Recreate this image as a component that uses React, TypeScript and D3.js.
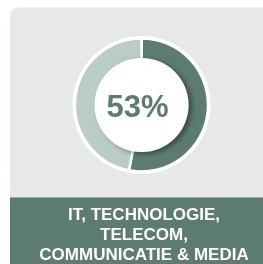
import React, { useEffect } from "react";
import * as d3 from "d3";

const segments = ["share", "rest"];
const values = [53, 47];
const centerLabel = "53%";
const titleLines = ["IT, TECHNOLOGIE,", "TELECOM,", "COMMUNICATIE & MEDIA"];

const W = 263;
const H = 264;
const cx = 141.5;
const cy = 105;
const outerR = 66.5;
const innerR = 47;
const colors = ["#5c7c6f", "#b9ccc7"];

export default function App() {
  useEffect(() => {
    document.documentElement.style.overflow = "hidden";
    document.body.style.overflow = "hidden";
    document.body.style.margin = "0";
  }, []);
  const pie = d3.pie<number>().sort(null).value((d) => d)(values);
  const arc = d3.arc<d3.PieArcDatum<number>>().innerRadius(innerR - 4).outerRadius(outerR);
  return (
    <svg width={W} height={H} style={{ position: "fixed", left: 0, top: 0, display: "block" }}>
      <defs>
        <filter id="sh" x="-30%" y="-30%" width="160%" height="160%">
          <feDropShadow dx="3.5" dy="2" stdDeviation="2.5" floodColor="#000" floodOpacity="0.4" />
        </filter>
      </defs>
      <rect x={10} y={7.5} width={300} height={300} rx={8} fill="#e6e9e8" />
      <rect x={10} y={197.5} width={300} height={80} fill="#5c7c6f" />
      <g transform={`translate(${cx},${cy})`}>
        <circle r={outerR + 2.5} fill="#ffffff" />
        {pie.map((p, i) => (
          <path key={segments[i]} d={arc(p) || ""} fill={colors[i]} stroke="#ffffff" strokeWidth={2.5} />
        ))}
        <circle r={innerR} fill="#ffffff" filter="url(#sh)" />
        <text
          x={-4}
          y={12}
          textAnchor="middle"
          fill="#5c7c6f"
          fontFamily="'Liberation Sans', Arial, sans-serif"
          fontWeight="bold"
          fontSize={31}
        >
          {centerLabel}
        </text>
      </g>
      {titleLines.map((t, i) => (
        <text
          key={t}
          x={144}
          y={219.5 + i * 20.25}
          textAnchor="middle"
          fill="#ffffff"
          fontFamily="'Liberation Sans', Arial, sans-serif"
          fontWeight="bold"
          fontSize={17}
        >
          {t}
        </text>
      ))}
    </svg>
  );
}
